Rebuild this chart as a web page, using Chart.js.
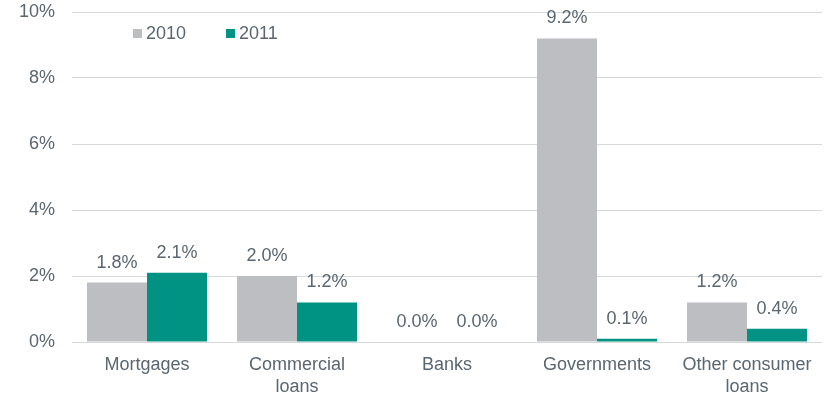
<!DOCTYPE html>
<html>
<head>
<meta charset="utf-8">
<script src="https://cdn.jsdelivr.net/npm/chart.js@4"></script>
<style>
  html, body { margin: 0; padding: 0; background: #fff; }
  #wrap { width: 836px; height: 397px; }
</style>
</head>
<body>
<div id="wrap"><canvas id="loanChart" width="836" height="397"></canvas></div>
<script>
  // categories and yearly values (%)
  let categories = ['Mortgages', ['Commercial', 'loans'], 'Banks', 'Governments', ['Other consumer', 'loans']];
  let values2010 = [1.8, 2.0, 0.0, 9.2, 1.2];
  let values2011 = [2.1, 1.2, 0.0, 0.1, 0.4];
  let yTicks = [0, 2, 4, 6, 8, 10];

  let textColor = '#5b6670';
  let fontFamily = '"Liberation Sans", Arial, sans-serif';
  let fontSize = 18;

  // value labels above each bar
  let barLabels = {
    id: 'barLabels',
    afterDatasetsDraw(chart) {
      let ctx = chart.ctx;
      ctx.save();
      ctx.font = fontSize + 'px ' + fontFamily;
      ctx.fillStyle = textColor;
      ctx.textAlign = 'center';
      ctx.textBaseline = 'middle';
      chart.data.datasets.forEach((ds, i) => {
        chart.getDatasetMeta(i).data.forEach((bar, j) => {
          ctx.fillText(ds.data[j].toFixed(1) + '%', bar.x, bar.y - 20);
        });
      });
      ctx.restore();
    }
  };

  // small legend inside the plot, top left
  let insideLegend = {
    id: 'insideLegend',
    afterDraw(chart) {
      let ctx = chart.ctx;
      let x = 133, y = 34;
      ctx.save();
      ctx.font = fontSize + 'px ' + fontFamily;
      ctx.textBaseline = 'middle';
      chart.data.datasets.forEach(ds => {
        ctx.fillStyle = ds.backgroundColor;
        ctx.fillRect(x, y - 5, 9, 9);
        ctx.fillStyle = textColor;
        ctx.fillText(ds.label, x + 13, y);
        x += 93;
      });
      ctx.restore();
    }
  };

  let ctx = document.getElementById('loanChart').getContext('2d');
  let loanChart = new Chart(ctx, {
    type: 'bar',
    data: {
      labels: categories,
      datasets: [
        { label: '2010', data: values2010, backgroundColor: '#bcbec1' },
        { label: '2011', data: values2011, backgroundColor: '#009384' }
      ]
    },
    options: {
      responsive: false,
      animation: false,
      layout: { padding: { top: 12, right: 14, left: 0, bottom: 0 } },
      datasets: { bar: { categoryPercentage: 0.8, barPercentage: 1.0 } },
      plugins: { legend: { display: false }, tooltip: { enabled: false } },
      scales: {
        x: {
          grid: { display: false },
          border: { display: false },
          ticks: { color: textColor, font: { family: fontFamily, size: fontSize, lineHeight: 1.17 }, padding: 5, maxRotation: 0 },
          afterFit(scale) { scale.height = 55; scale.paddingTop = 0; }
        },
        y: {
          min: 0,
          max: 10,
          afterBuildTicks(scale) { scale.ticks = yTicks.map(v => ({ value: v })); },
          grid: { color: '#d6d9dc', lineWidth: 1, drawTicks: false },
          border: { display: false },
          ticks: {
            color: textColor,
            font: { family: fontFamily, size: fontSize },
            padding: 17,
            callback: v => v + '%'
          },
          afterFit(scale) { scale.width = 72; scale.paddingTop = 0; scale.paddingBottom = 0; }
        }
      }
    },
    plugins: [barLabels, insideLegend]
  });
</script>
</body>
</html>
